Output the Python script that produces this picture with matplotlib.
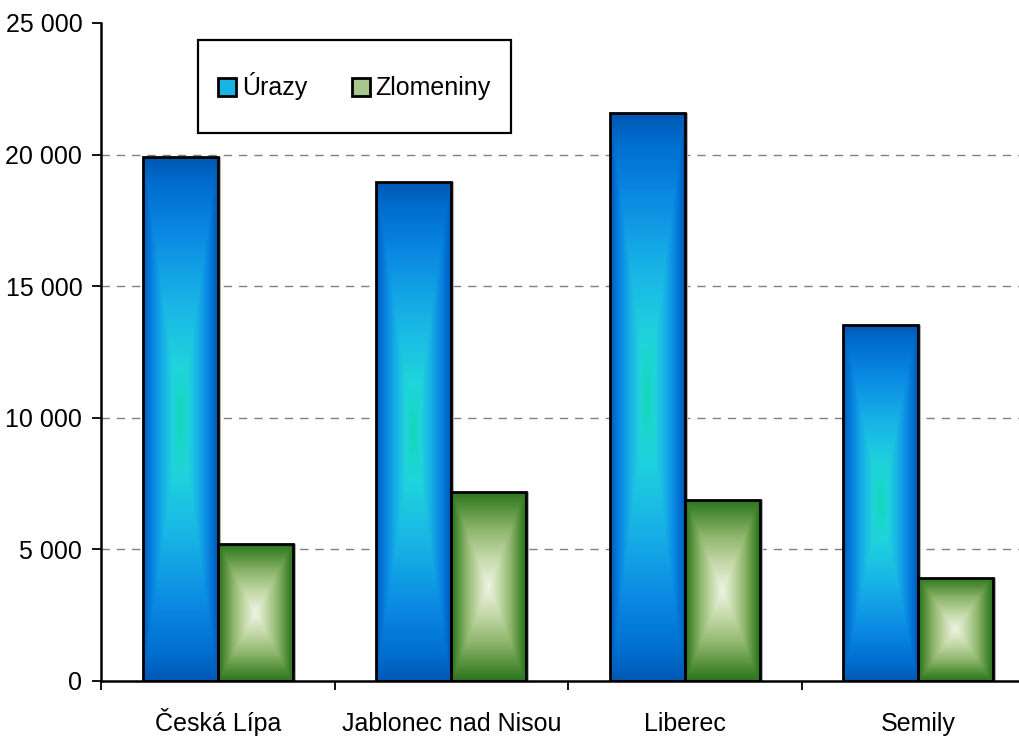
import numpy as np
import matplotlib
matplotlib.use("Agg")
import matplotlib.pyplot as plt
from matplotlib.colors import LinearSegmentedColormap
from matplotlib.patches import Rectangle, Patch
from matplotlib.ticker import FuncFormatter

# ---- data ----
categories = ["Česká Lípa", "Jablonec nad Nisou", "Liberec", "Semily"]
urazy = [19900, 18950, 21570, 13530]
zlomeniny = [5200, 7190, 6880, 3920]
series_labels = ["Úrazy", "Zlomeniny"]
y_ticks = [0, 5000, 10000, 15000, 20000, 25000]

plt.rcParams['font.family'] = ['Liberation Sans', 'DejaVu Sans']
FS = 18

fig = plt.figure(figsize=(10.19, 7.36), dpi=100)
W, H = 1019, 736
ax = fig.add_axes([101 / W, 1 - 681 / H, 934 / W, (681 - 23) / H])

x = np.arange(len(categories))
bw = 0.321
b1 = ax.bar(x - bw / 2, urazy, width=bw, facecolor='none', edgecolor='black', linewidth=2.0, zorder=4)
b2 = ax.bar(x + bw / 2, zlomeniny, width=bw, facecolor='none', edgecolor='black', linewidth=2.0, zorder=4)

blue_cmap = LinearSegmentedColormap.from_list("blue", [
    (0.0, "#12D8B8"), (0.2, "#20D4DC"), (0.45, "#18B4E6"),
    (0.72, "#0A88E2"), (0.9, "#006ECF"), (1.0, "#0058B4")])
green_cmap = LinearSegmentedColormap.from_list("green", [
    (0.0, "#EEF4E4"), (0.3, "#C4D9A8"), (0.6, "#8DB56C"),
    (0.85, "#4E8C34"), (1.0, "#2A7420")])

ny, nx = 300, 80
u = np.linspace(-1, 1, nx)
v = np.linspace(-1, 1, ny)
U, V = np.meshgrid(u, v)
T = np.maximum(np.abs(U), np.abs(V))

def fill_gradient(bars, cmap):
    for p in bars.patches:
        x0, y0 = p.get_x(), p.get_y()
        w, h = p.get_width(), p.get_height()
        ax.add_patch(Rectangle((x0 + w, y0), 0.012, h, facecolor='#b0b0b0', edgecolor='none', zorder=2))
        im = ax.imshow(T, cmap=cmap, vmin=0, vmax=1, extent=(x0, x0 + w, y0, y0 + h),
                       aspect='auto', origin='lower', zorder=3, interpolation='bilinear')
        im.set_clip_path(p)

fill_gradient(b1, blue_cmap)
fill_gradient(b2, green_cmap)

ax.set_xlim(-0.5, 3.5)
ax.set_ylim(0, 25000)

for yv in y_ticks[1:-1]:
    ax.axhline(yv, color='#808080', linewidth=1.0, linestyle=(0, (6, 5)), zorder=1)

ax.set_yticks(y_ticks)
ax.yaxis.set_major_formatter(FuncFormatter(lambda val, pos: f"{int(val):,}".replace(",", " ")))
ax.tick_params(axis='y', length=6.5, width=1.3, labelsize=FS, pad=7, color='black')

ax.set_xticks(x)
ax.set_xticklabels(categories)
ax.set_xticks(np.arange(-0.5, 4.0, 1.0), minor=True)
ax.tick_params(axis='x', which='major', length=0, labelsize=FS, pad=36)
ax.tick_params(axis='x', which='minor', length=6.5, width=1.3)
for lab in ax.get_xticklabels():
    lab.set_va('baseline')

for s in ['top', 'right']:
    ax.spines[s].set_visible(False)
for s in ['left', 'bottom']:
    ax.spines[s].set_linewidth(1.8)
    ax.spines[s].set_zorder(5)

box = Rectangle((198 / W, 1 - 133 / H), (511 - 198) / W, (133 - 40) / H,
                transform=fig.transFigure, facecolor='white', edgecolor='black',
                linewidth=1.6, zorder=10)
fig.patches.append(box)
handles = [Patch(facecolor="#18B4E6", edgecolor='black', linewidth=2.0),
           Patch(facecolor="#A8C78C", edgecolor='black', linewidth=2.0)]
leg = fig.legend(handles, series_labels, loc='center',
                 bbox_to_anchor=((198 + 511) / 2 / W, 1 - (40 + 133) / 2 / H),
                 ncol=2, frameon=False, fontsize=FS, handlelength=0.7, handleheight=0.7,
                 handletextpad=0.25, columnspacing=1.8)
leg.set_zorder(11)

fig.savefig("out.png", dpi=100)
